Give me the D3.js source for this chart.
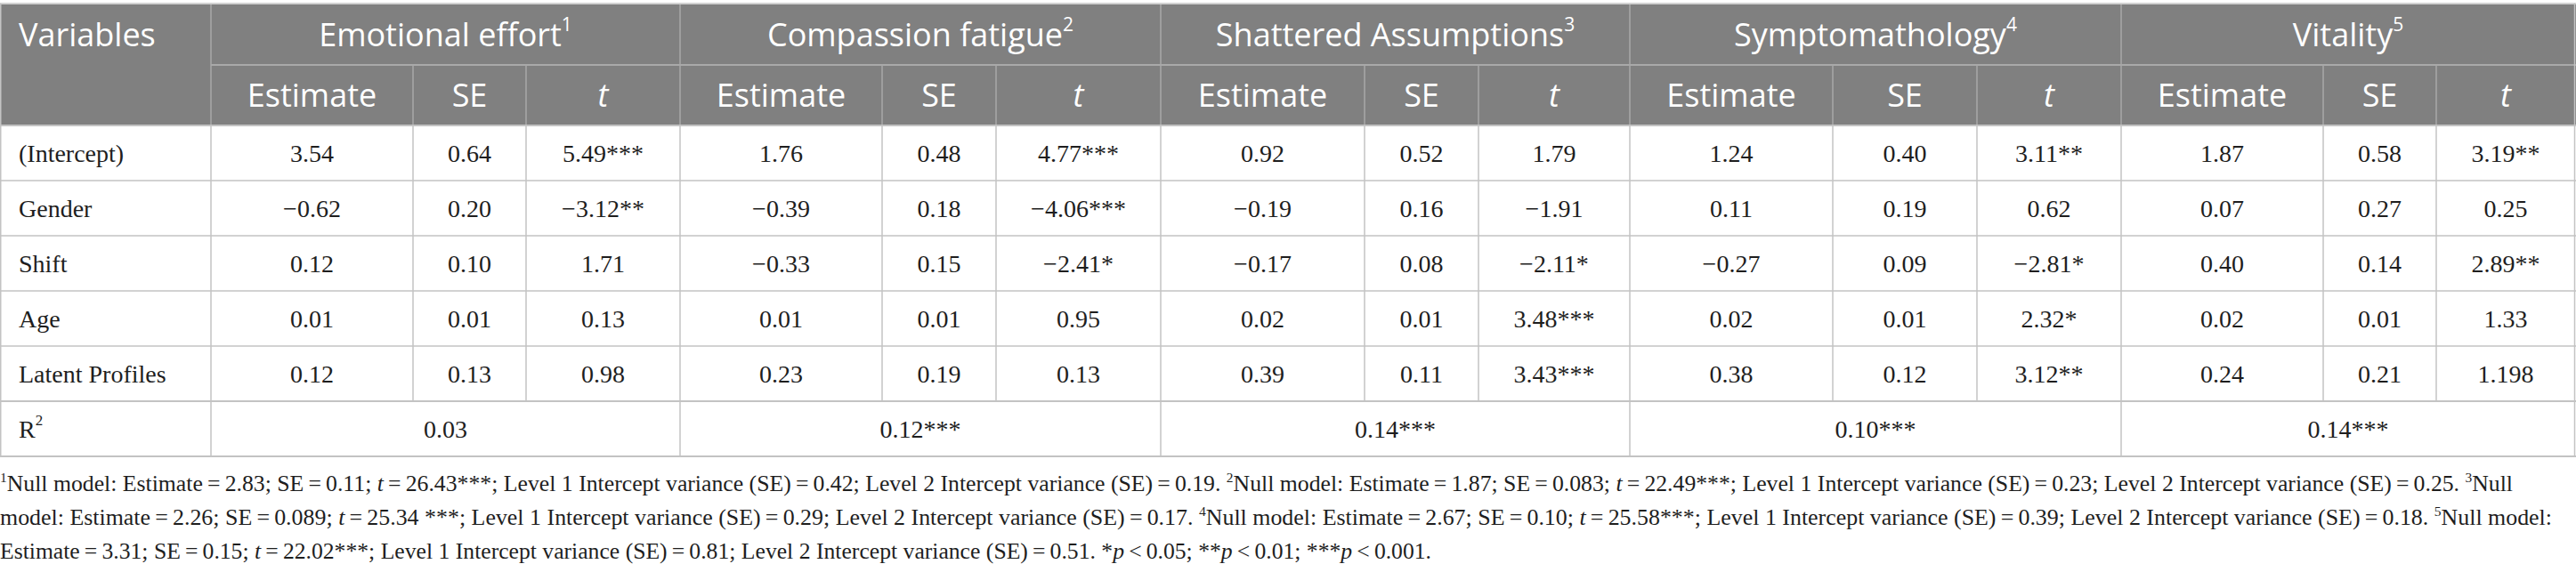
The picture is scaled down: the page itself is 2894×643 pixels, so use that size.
<!DOCTYPE html>
<html>
<head>
<meta charset="utf-8">
<script src="https://cdn.jsdelivr.net/npm/d3@7"></script>
<style>
  html, body { margin: 0; padding: 0; background: #fff; }
  svg { display: block; }
</style>
</head>
<body>
<svg id="chart"></svg>
<script>
// Table content
const outcomes = ["Emotional effort", "Compassion fatigue", "Shattered Assumptions", "Symptomathology", "Vitality"];
const stats = ["Estimate", "SE", "t"];
const variables = ["(Intercept)", "Gender", "Shift", "Age", "Latent Profiles"];

// one array per outcome: rows follow `variables`, columns follow `stats`
const emotionalEffort = [["3.54", "0.64", "5.49***"], ["−0.62", "0.20", "−3.12**"], ["0.12", "0.10", "1.71"], ["0.01", "0.01", "0.13"], ["0.12", "0.13", "0.98"]];
const compassionFatigue = [["1.76", "0.48", "4.77***"], ["−0.39", "0.18", "−4.06***"], ["−0.33", "0.15", "−2.41*"], ["0.01", "0.01", "0.95"], ["0.23", "0.19", "0.13"]];
const shatteredAssumptions = [["0.92", "0.52", "1.79"], ["−0.19", "0.16", "−1.91"], ["−0.17", "0.08", "−2.11*"], ["0.02", "0.01", "3.48***"], ["0.39", "0.11", "3.43***"]];
const symptomathology = [["1.24", "0.40", "3.11**"], ["0.11", "0.19", "0.62"], ["−0.27", "0.09", "−2.81*"], ["0.02", "0.01", "2.32*"], ["0.38", "0.12", "3.12**"]];
const vitality = [["1.87", "0.58", "3.19**"], ["0.07", "0.27", "0.25"], ["0.40", "0.14", "2.89**"], ["0.02", "0.01", "1.33"], ["0.24", "0.21", "1.198"]];
const rSquared = ["0.03", "0.12***", "0.14***", "0.10***", "0.14***"];

// footnote lines (^n = superscript digit, ~x~ = italic)
const footnotes = [
  "^1Null model: Estimate = 2.83; SE = 0.11; ~t~ = 26.43***; Level 1 Intercept variance (SE) = 0.42; Level 2 Intercept variance (SE) = 0.19. ^2Null model: Estimate = 1.87; SE = 0.083; ~t~ = 22.49***; Level 1 Intercept variance (SE) = 0.23; Level 2 Intercept variance (SE) = 0.25. ^3Null",
  "model: Estimate = 2.26; SE = 0.089; ~t~ = 25.34 ***; Level 1 Intercept variance (SE) = 0.29; Level 2 Intercept variance (SE) = 0.17. ^4Null model: Estimate = 2.67; SE = 0.10; ~t~ = 25.58***; Level 1 Intercept variance (SE) = 0.39; Level 2 Intercept variance (SE) = 0.18. ^5Null model:",
  "Estimate = 3.31; SE = 0.15; ~t~ = 22.02***; Level 1 Intercept variance (SE) = 0.81; Level 2 Intercept variance (SE) = 0.51. *~p~ < 0.05; **~p~ < 0.01; ***~p~ < 0.001."
];

const blocks = [emotionalEffort, compassionFatigue, shatteredAssumptions, symptomathology, vitality];

// Layout
const W = 2894, H = 643;
const colWidths = [237, 227, 127, 173, 227, 128, 185, 229, 128, 170, 228, 162, 162, 227, 127, 156];
const edges = [0, ...d3.cumsum(colWidths)];
const yTop = 5, head1 = 73, head2 = 141, yBottom = 513;
const footWidths = [2823, 2867, 1608];
const footBase = [552, 590, 628];

const headFill = "#808080", headLine = "#a9a9a9", bodyLine = "#c3c3c3";
const sans = "'Open Sans', 'Noto Sans', sans-serif";
const serif = "'Liberation Serif', 'DejaVu Serif', serif";

const svg = d3.select("#chart").attr("width", W).attr("height", H);

// column index -> left edge
const x = d3.scaleLinear().domain(d3.range(edges.length)).range(edges);
const mid = i => (x(i) + x(i + 1)) / 2;

// body rows
const rows = [...variables, "R2"];
const y = d3.scaleBand().domain(rows).range([head2, yBottom]);

// header background
svg.append("rect")
  .attr("x", 0).attr("y", yTop)
  .attr("width", W).attr("height", head2 - yTop)
  .attr("fill", headFill);

const lines = svg.append("g").attr("fill", "none");
function line(x1, y1, x2, y2, c, w) {
  lines.append("line")
    .attr("x1", x1).attr("y1", y1).attr("x2", x2).attr("y2", y2)
    .attr("stroke", c).attr("stroke-width", w);
}

// header lines
line(x(1), head1, W, head1, headLine, 2);
line(x(1), yTop, x(1), head2, headLine, 1.5);
outcomes.forEach((o, g) => {
  const a = 1 + g * 3;
  if (g > 0) line(x(a), yTop, x(a), head2, headLine, 1.5);
  line(x(a + 1), head1, x(a + 1), head2, headLine, 1.5);
  line(x(a + 2), head1, x(a + 2), head2, headLine, 1.5);
});

// body horizontal lines
rows.forEach(r => line(0, y(r), W, y(r), bodyLine, r === "R2" || r === rows[0] ? 2 : 1.5));
line(0, yBottom, W, yBottom, bodyLine, 2);
line(0, yTop - 1, W, yTop - 1, bodyLine, 1.5);

// body vertical lines
const dataTop = y(rows[0]), dataBottom = y("R2");
d3.range(edges.length).forEach(i => {
  const xe = i === edges.length - 1 ? x(i) - 0.5 : i === 0 ? 0.75 : x(i);
  const groupEdge = i === 0 || i === 1 || (i - 1) % 3 === 0;
  line(xe, dataTop, xe, groupEdge ? yBottom : dataBottom, bodyLine, 1.5);
  if (i === 0 || i === edges.length - 1) line(xe, yTop - 1, xe, head2, bodyLine, 1.5);
});

// header text
const hdr = svg.append("g")
  .attr("font-family", sans).attr("fill", "#fff").attr("font-size", 36);

hdr.append("text")
  .attr("x", 21).attr("y", (yTop + head1) / 2).attr("dy", "0.36em")
  .text("Variables");

outcomes.forEach((o, g) => {
  const a = 1 + g * 3;
  const t = hdr.append("text")
    .attr("x", (x(a) + x(a + 3)) / 2).attr("y", (yTop + head1) / 2).attr("dy", "0.36em")
    .attr("text-anchor", "middle");
  t.append("tspan").text(o);
  t.append("tspan").attr("font-size", 21).attr("dy", "-0.8em").text(g + 1);

  stats.forEach((s, k) => {
    hdr.append("text")
      .attr("x", mid(a + k)).attr("y", (head1 + head2) / 2).attr("dy", "0.36em")
      .attr("text-anchor", "middle")
      .attr("font-style", s === "t" ? "italic" : null)
      .text(s);
  });
});

// body text
const body = svg.append("g")
  .attr("font-family", serif).attr("fill", "#1e1e1e").attr("font-size", 28);

variables.forEach((v, r) => {
  body.append("text")
    .attr("x", 21).attr("y", y(v) + y.bandwidth() / 2).attr("dy", "0.36em")
    .text(v);
  blocks.forEach((blk, g) => {
    blk[r].forEach((val, k) => {
      body.append("text")
        .attr("x", mid(1 + g * 3 + k)).attr("y", y(v) + y.bandwidth() / 2).attr("dy", "0.36em")
        .attr("text-anchor", "middle")
        .text(val);
    });
  });
});

const r2 = body.append("text")
  .attr("x", 21).attr("y", y("R2") + y.bandwidth() / 2).attr("dy", "0.36em");
r2.append("tspan").text("R");
r2.append("tspan").attr("font-size", 17).attr("dy", "-0.8em").text("2");

rSquared.forEach((v, g) => {
  body.append("text")
    .attr("x", (x(1 + g * 3) + x(4 + g * 3)) / 2)
    .attr("y", y("R2") + y.bandwidth() / 2).attr("dy", "0.36em")
    .attr("text-anchor", "middle")
    .text(v);
});

// footnotes
const foot = svg.append("g")
  .attr("font-family", serif).attr("fill", "#1e1e1e");

const supRise = 10;
footnotes.forEach((txt, i) => {
  let fs = 27;
  const t = foot.append("text").attr("x", 0).attr("y", footBase[i]).attr("font-size", fs);
  const raw = txt.replace(/ = /g, "\u2009=\u2009").replace(/ < /g, "\u2009<\u2009");
  const parts = raw.split(/(\^\d|~[^~]+~)/).filter(p => p.length);
  let back = 0; // baseline offset to undo after a superscript
  parts.forEach(p => {
    if (p[0] === "^") {
      t.append("tspan").attr("font-size", "0.6em").attr("dy", -supRise - back).text(p.slice(1));
      back = supRise;
      return;
    }
    const s = t.append("tspan")
      .attr("font-style", p[0] === "~" ? "italic" : null)
      .text(p[0] === "~" ? p.slice(1, -1) : p);
    if (back) { s.attr("dy", back); back = 0; }
  });
  // fit each line to the width it has in the original
  let w = t.node().getComputedTextLength();
  if (w > footWidths[i]) {
    fs = fs * footWidths[i] / w;
    t.attr("font-size", fs);
    w = t.node().getComputedTextLength();
  }
  const spaces = (raw.match(/ /g) || []).length;
  t.attr("word-spacing", Math.max(0, (footWidths[i] - w) / spaces));
});
</script>
</body>
</html>
